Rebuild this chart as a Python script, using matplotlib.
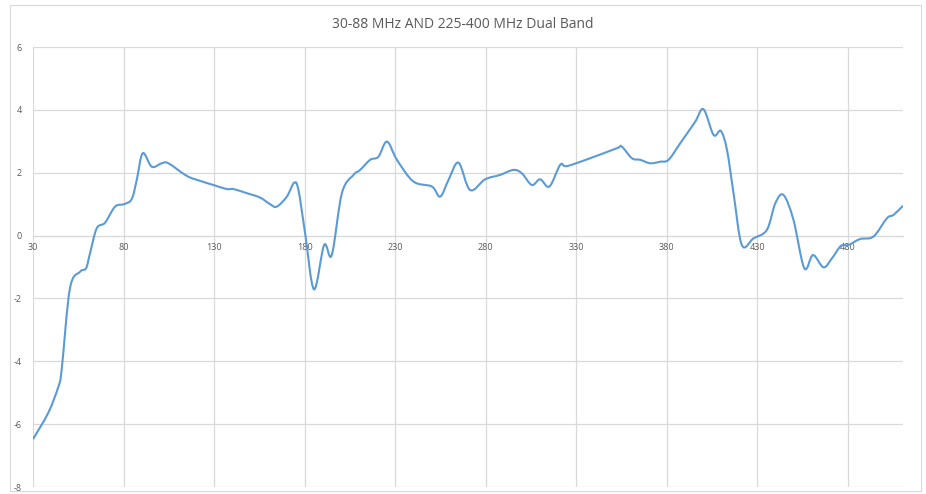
import numpy as np
import matplotlib.pyplot as plt
from matplotlib.path import Path
from matplotlib.patches import PathPatch, Rectangle

plt.rcParams['axes.unicode_minus'] = False
plt.rcParams['font.family'] = ['Open Sans', 'DejaVu Sans']

# frequency (MHz) and gain readings
freq = [30, 38.5, 44, 45.8, 50.4, 56, 59.3, 61.5, 65.2, 69.8, 75.3, 80.3, 84.5,
        87.3, 90.6, 95.6, 101.1, 104.8, 114.9, 122.3, 129.6, 137, 140.7, 148,
        155.4, 160.9, 164.6, 170.2, 174.2, 176.6, 180.3, 185.2, 190.8, 195,
        200.6, 207, 210.7, 216.2, 220.8, 225.5, 231, 240.1, 250.3, 254.9, 259.5,
        265, 271.4, 279.7, 288, 295.4, 300, 305.5, 310.1, 315.2, 321.2, 324.9,
        337.7, 352.5, 355.2, 360.8, 365.4, 370.9, 376.4, 381, 387.5, 395.7,
        400.3, 405.9, 409.9, 413.3, 416.9, 421.5, 427.9, 435.3, 440, 444.5,
        450, 456, 460.8, 466.6, 471.3, 476.2, 480.4, 486.8, 494.2, 501.6,
        505.3, 510.5]
gain = [-6.48, -5.63, -4.81, -4.28, -1.68, -1.15, -1.04, -0.56, 0.23, 0.41, 0.92,
        1.0, 1.16, 1.77, 2.62, 2.19, 2.3, 2.3, 1.9, 1.74, 1.61, 1.48, 1.48, 1.35,
        1.21, 1.0, 0.92, 1.24, 1.68, 1.45, 0.07, -1.71, -0.30, -0.62, 1.35, 1.93,
        2.09, 2.41, 2.51, 2.99, 2.41, 1.72, 1.56, 1.24, 1.77, 2.32, 1.45, 1.79,
        1.93, 2.09, 1.98, 1.61, 1.79, 1.56, 2.25, 2.21, 2.46, 2.78, 2.83, 2.46,
        2.41, 2.3, 2.35, 2.41, 2.94, 3.62, 4.02, 3.2, 3.33, 2.72, 1.35, -0.30,
        -0.09, 0.18, 1.03, 1.29, 0.5, -1.04, -0.62, -1.01, -0.72, -0.33, -0.30,
        -0.11, -0.03, 0.55, 0.66, 0.95]

x_ticks = [30, 80, 130, 180, 230, 280, 330, 380, 430, 480]
y_ticks = [-8, -6, -4, -2, 0, 2, 4, 6]

fig = plt.figure(figsize=(9.26, 4.94), dpi=100)
ax = fig.add_axes([33 / 926, 1 - 487 / 494, 870 / 926, 440 / 494])

# Excel style smoothed line: cubic bezier segments (catmull-rom control points)
x = np.array(freq)
y = np.array(gain)
verts = [(x[0], y[0])]
codes = [Path.MOVETO]
t = 1 / 6
for i in range(len(x) - 1):
    x0, y0 = (x[i - 1], y[i - 1]) if i > 0 else (x[i], y[i])
    x3, y3 = (x[i + 2], y[i + 2]) if i + 2 < len(x) else (x[i + 1], y[i + 1])
    c1 = (x[i] + (x[i + 1] - x0) * t, y[i] + (y[i + 1] - y0) * t)
    c2 = (x[i + 1] - (x3 - x[i]) * t, y[i + 1] - (y3 - y[i]) * t)
    verts += [c1, c2, (x[i + 1], y[i + 1])]
    codes += [Path.CURVE4] * 3
ax.add_patch(PathPatch(Path(verts, codes), facecolor='none',
                       edgecolor='#5B9BD5', lw=1.5, zorder=3))

ax.set_xlim(30, 510.5)
ax.set_ylim(-8, 6)
ax.set_xticks(x_ticks)
ax.set_yticks(y_ticks)
ax.grid(True, color='#D9D9D9', lw=0.9)
ax.set_axisbelow(True)

for s in ['top', 'right', 'left']:
    ax.spines[s].set_visible(False)
ax.spines['bottom'].set_position(('data', 0))
ax.spines['bottom'].set_color('#D9D9D9')
ax.tick_params(axis='x', length=0, pad=5, labelsize=6.5, labelcolor='#595959')
ax.tick_params(axis='y', length=0, pad=8, labelsize=6.5, labelcolor='#595959')

fig.text(0.5, 1 - 24 / 494, '30-88 MHz AND 225-400 MHz Dual Band',
         ha='center', va='center', fontsize=10, color='#595959')

# chart area border
fig.patches.append(Rectangle((10 / 926, 1 - 491 / 494), 911 / 926, 486 / 494,
                             transform=fig.transFigure, fill=False,
                             edgecolor='#D9D9D9', lw=0.8))

fig.savefig('out.png', dpi=100)
